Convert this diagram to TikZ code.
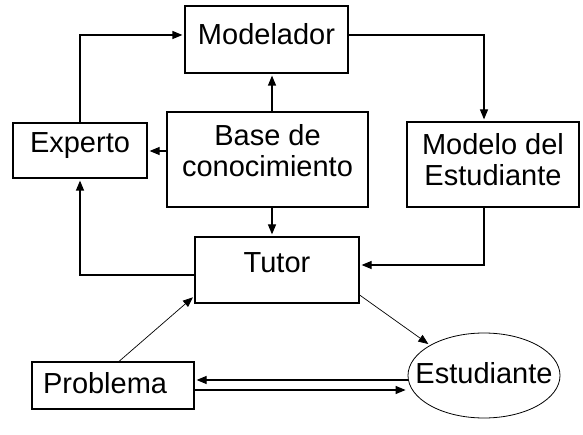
\documentclass[tikz,border=0pt]{standalone}
\usepackage{fontspec}
\setmainfont{Liberation Sans}
\usetikzlibrary{arrows.meta,shapes.geometric}
\begin{document}
\begin{tikzpicture}[x=1pt,y=-1pt,
  font=\fontsize{29}{31}\selectfont,
  box/.style={draw,line width=1.2pt,inner sep=0pt,text height=20pt},
  conn/.style={line width=1.2pt,-{Triangle[length=10pt,width=8pt]},shorten >=2pt},
  thin conn/.style={line width=0.7pt,-{Triangle[length=10pt,width=8pt]},shorten >=2pt}]
\useasboundingbox[fill=white] (0,0) rectangle (583,435);
\node[box,minimum width=163pt,minimum height=67pt,text depth=9pt] (mod) at (266.5,39.5) {Modelador};
\node[box,minimum width=134pt,minimum height=55pt,text depth=15pt] (exp) at (80,150.5) {Experto};
\node[box,minimum width=201pt,minimum height=95pt,align=center,text height=51pt,text depth=16pt] (base) at (267.5,159.5) {Base de\\conocimiento};
\node[box,minimum width=172pt,minimum height=85pt,align=center,text height=51pt,text depth=8pt] (me) at (493,164.5) {Modelo del\\Estudiante};
\node[box,minimum width=164pt,minimum height=66pt,text depth=14pt] (tut) at (277,270) {Tutor};
\node[box,minimum width=162pt,minimum height=47pt,text depth=5pt,text width=140pt,align=left] (prob) at (113,385.5) {Problema};
\node[draw,ellipse,line width=0.8pt,inner xsep=-16pt,inner ysep=0pt,minimum width=152pt,minimum height=85pt,text height=20pt,text depth=5pt] (est) at (484,375.5) {Estudiante};
\draw[conn] (exp.north) |- (mod.west |- 0,35);
\draw[conn] (mod.east |- 0,35) -| (484,0 |- me.north);
\draw[conn] (484,0 |- me.south) |- (tut.east |- 0,265);
\draw[conn] (272,0 |- base.north) -- (272,0 |- mod.south);
\draw[conn] (base.west |- 0,151) -- (exp.east |- 0,151);
\draw[conn] (272,0 |- base.south) -- (272,0 |- tut.north);
\draw[conn] (tut.west |- 0,275) -| (exp.south);
\draw[thin conn] (119,0 |- prob.north) -- (tut.west |- 0,296);
\draw[thin conn] (tut.east |- 0,295) -- (est.north west);
\draw[conn] (est.west |- 0,380) -- (prob.east |- 0,380);
\draw[conn] (prob.east |- 0,390) -- (est.west |- 0,390);
\end{tikzpicture}
\end{document}
